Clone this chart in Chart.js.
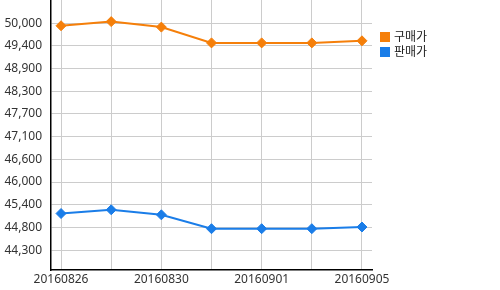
<!DOCTYPE html>
<html>
<head>
<meta charset="utf-8">
<script src="https://cdn.jsdelivr.net/npm/chart.js@4"></script>
<style>
  body { margin: 0; background: #fff; }
  #wrap { position: relative; width: 500px; height: 290px; }
  #legend { position: absolute; left: 380px; top: 28px; font: 12px "Noto Sans CJK KR", "Noto Sans", sans-serif; color: #222; }
  #legend div { height: 15px; line-height: 15px; white-space: nowrap; }
  #legend span { display: inline-block; width: 10px; height: 10px; margin-right: 4px; vertical-align: -1px; }
</style>
</head>
<body>
<div id="wrap">
  <canvas id="priceChart" width="500" height="290"></canvas>
  <div id="legend"></div>
</div>
<script>
// dates (only every other one is labelled)
const dates = ['20160826', '20160829', '20160830', '20160831', '20160901', '20160902', '20160905'];
const buyPrice = [49937, 50042, 49903, 49503, 49503, 49503, 49555];
const sellPrice = [45177, 45272, 45144, 44792, 44792, 44792, 44835];
const yTickLabels = ['50,000', '49,400', '48,900', '48,300', '47,700', '47,100', '46,600', '46,000', '45,400', '44,800', '44,300'];
const yTop = 50000;
const yStep = 575;
const seriesNames = ['구매가', '판매가'];
const seriesColors = ['#f57f0a', '#1a7de8'];

function toPoints(arr) {
    return arr.map((v, i) => ({ x: i, y: v }));
}

// drop the half-label padding chart.js adds at the axis ends
function noEndPadding(s) {
    s.paddingTop = 0;
    s.paddingBottom = 0;
    s.paddingLeft = 0;
    s.paddingRight = 0;
}

const ctx = document.getElementById('priceChart');
new Chart(ctx, {
    type: 'line',
    data: {
        datasets: [
            {
                label: seriesNames[0],
                data: toPoints(buyPrice),
                borderColor: seriesColors[0],
                backgroundColor: seriesColors[0],
                borderWidth: 2,
                pointStyle: 'rectRot',
                pointRadius: 5,
                pointBorderWidth: 1,
                tension: 0,
            },
            {
                label: seriesNames[1],
                data: toPoints(sellPrice),
                borderColor: seriesColors[1],
                backgroundColor: seriesColors[1],
                borderWidth: 2,
                pointStyle: 'rectRot',
                pointRadius: 5,
                pointBorderWidth: 1,
                tension: 0,
            }
        ]
    },
    options: {
        responsive: false,
        animation: false,
        layout: { autoPadding: false, padding: { left: 0, right: 128, top: 0, bottom: 0 } },
        plugins: {
            legend: { display: false },
            tooltip: { enabled: false }
        },
        scales: {
            x: {
                type: 'linear',
                min: -0.2,
                max: dates.length - 0.8,
                afterBuildTicks: s => { s.ticks = dates.map((_, i) => ({ value: i })); },
                afterFit: s => { noEndPadding(s); s.height = 20; },
                grid: { color: '#cccccc', drawTicks: false },
                border: { color: '#000', width: 1.5 },
                ticks: {
                    autoSkip: false,
                    maxRotation: 0,
                    padding: 2,
                    color: '#333',
                    font: { family: 'Noto Sans', size: 12 },
                    callback: v => (v % 2 === 0 ? dates[v] : '')
                }
            },
            y: {
                min: 43745,
                max: 50590,
                afterBuildTicks: s => { s.ticks = yTickLabels.map((_, i) => ({ value: yTop - i * yStep })); },
                afterFit: s => { noEndPadding(s); s.width = 51; },
                grid: { color: '#cccccc', drawTicks: false },
                border: { color: '#000', width: 1.5 },
                ticks: {
                    padding: 9,
                    color: '#333',
                    font: { family: 'Noto Sans', size: 12 },
                    callback: (v, i) => yTickLabels[i]
                }
            }
        }
    }
});

const legend = document.getElementById('legend');
seriesNames.forEach((name, i) => {
    const row = document.createElement('div');
    row.innerHTML = '<span style="background:' + seriesColors[i] + '"></span>' + name;
    legend.appendChild(row);
});
</script>
</body>
</html>
